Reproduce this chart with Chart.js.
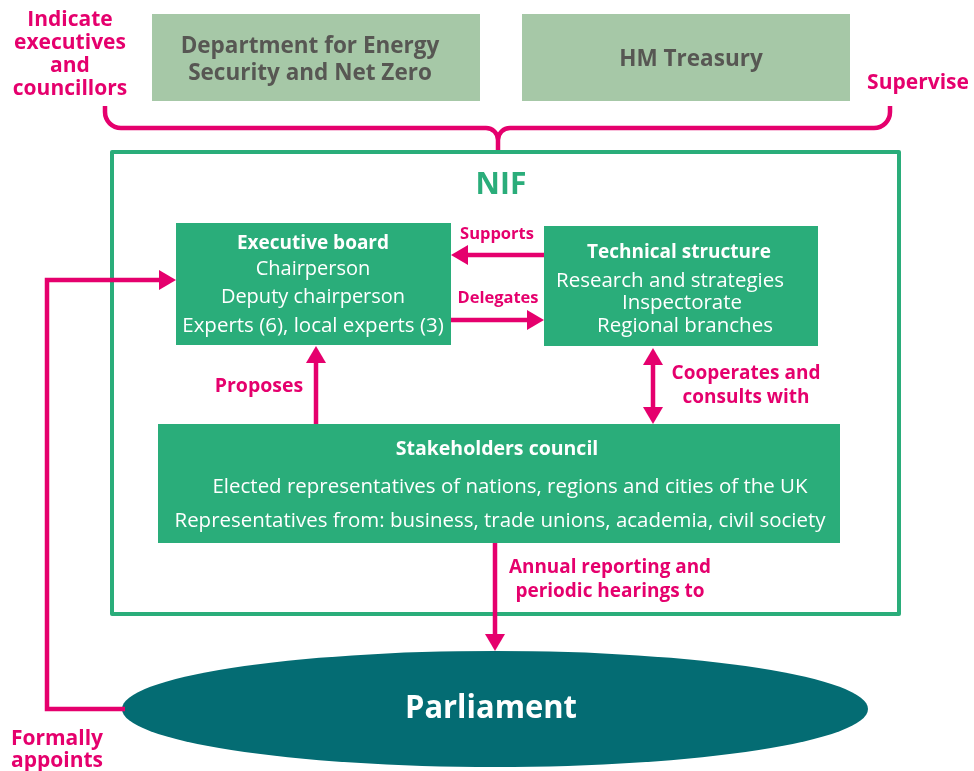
<!DOCTYPE html>
<html><head><meta charset="utf-8">
<script src="https://cdn.jsdelivr.net/npm/chart.js@4/dist/chart.umd.min.js"></script>
<style>html,body{margin:0;padding:0;background:#fff}#wrap{width:974px;height:771px}</style>
</head><body><div id="wrap"><canvas id="c" width="974" height="771"></canvas></div>
<script>
// ---- content ----
const supervisingBodies = ["Department for Energy\nSecurity and Net Zero", "HM Treasury"];
const nifTitle = "NIF";
const boardLines = ["Executive board", "Chairperson", "Deputy chairperson", "Experts (6), local experts (3)"];
const technicalLines = ["Technical structure", "Research and strategies", "Inspectorate", "Regional branches"];
const councilLines = ["Stakeholders council", "Elected representatives of nations, regions and cities of the UK", "Representatives from: business, trade unions, academia, civil society"];
const parliamentLabel = "Parliament";
const relationLabels = ["Indicate\nexecutives\nand\ncouncillors", "Supervise", "Supports", "Delegates", "Proposes", "Cooperates and\nconsults with", "Annual reporting and\nperiodic hearings to", "Formally\nappoints"];

// ---- layout (diagram units = reference pixels) ----
const W = 974, H = 771;
const C = { magenta: "#e5006d", green: "#2aad7a", light: "#a6c8a7", teal: "#046c73", grey: "#575753", white: "#ffffff" };
const FONT = '"Open Sans", "Noto Sans", sans-serif';
const TEXT_SHIFT = 1.5;

const topBoxes = [
  { x0: 152, x1: 480, y0: 14, y1: 101, text: supervisingBodies[0], lines: [45, 72], cx: 310 },
  { x0: 522, x1: 850, y0: 14, y1: 101, text: supervisingBodies[1], lines: [58], cx: 691 }
];
const nifBox = { x0: 112, x1: 899, y0: 152, y1: 614 };
const boardBox = { x0: 176, x1: 451, y0: 223, y1: 345, cx: 313, ys: [242, 268, 296, 325], mw: [156, 120, 200, 266], sizes: [19, 20, 20, 20.5] };
const techBox = { x0: 544, x1: 818, y0: 226, y1: 346, cxs: [679, 670, 682, 685], ys: [251, 280, 302, 325], mw: [184, 228, 122, 176], sizes: [19, 20.5, 20.5, 20.5] };
const councilBox = { x0: 158, x1: 840, y0: 424, y1: 543, cxs: [497, 510, 500], ys: [448, 486, 520], mw: [205, 595, 651], sizes: [19.5, 20.5, 20.5] };
const parliament = { cx: 495, cy: 709, rx: 373, ry: 58 };

const labelPos = [
  { x: 70, ys: [19, 42, 65, 88], size: 21, mw: [90, 118, 48, 120] },
  { x: 918, ys: [82], size: 21, mw: [108] },
  { x: 497, ys: [233], size: 16.5, mw: [78] },
  { x: 498, ys: [297], size: 16.5, mw: [85] },
  { x: 259, ys: [385], size: 19.5, mw: [90] },
  { x: 746, ys: [372, 396], size: 19, mw: [151, 127] },
  { x: 610, ys: [566, 590], size: 19, mw: [202, 192] },
  { x: 57, ys: [738, 760], size: 21, mw: [94, 94] }
];

// connector polylines (drawn as datasets) and arrowheads [tipX, tipY, dirX, dirY]
const connectors = [
  { pts: [[544, 255], [462, 255]], heads: [[451, 255, -1, 0]] },
  { pts: [[451, 320], [533, 320]], heads: [[544, 320, 1, 0]] },
  { pts: [[653, 360], [653, 412]], heads: [[653, 348, 0, -1], [653, 424, 0, 1]] },
  { pts: [[316, 424], [316, 358]], heads: [[316, 346, 0, -1]] },
  { pts: [[495, 543], [495, 638]], heads: [[495, 651, 0, 1]] },
  { pts: [[125, 709], [47, 709], [47, 280], [164, 280]], heads: [[176, 280, 1, 0]] }
];

const diagramPlugin = {
  id: 'diagram',
  beforeDatasetsDraw(chart) {
    const ctx = chart.ctx, sx = chart.scales.x, sy = chart.scales.y;
    const X = v => sx.getPixelForValue(v), Y = v => sy.getPixelForValue(v);
    const rect = (b, fill) => { ctx.fillStyle = fill; ctx.fillRect(X(b.x0), Y(b.y0), X(b.x1) - X(b.x0), Y(b.y1) - Y(b.y0)); };
    const text = (t, x, y, font, color, mw) => {
      ctx.font = font; ctx.fillStyle = color; ctx.textAlign = 'center'; ctx.textBaseline = 'middle';
      const w = ctx.measureText(t).width;
      const py = Y(y + TEXT_SHIFT);
      if (mw && w > mw) ctx.fillText(t, X(x), py, mw); else ctx.fillText(t, X(x), py);
    };
    ctx.save();
    // supervising bodies
    topBoxes.forEach(b => {
      rect(b, C.light);
      const ls = b.text.split('\n');
      ls.forEach((l, i) => text(l, b.cx, b.lines[i], 'bold 22.5px ' + FONT, C.grey, 260));
    });
    // brace
    ctx.strokeStyle = C.magenta; ctx.lineWidth = 4.5; ctx.lineCap = 'butt'; ctx.lineJoin = 'round';
    ctx.beginPath();
    ctx.moveTo(X(105), Y(106));
    ctx.arcTo(X(105), Y(128), X(125), Y(128), 16);
    ctx.arcTo(X(498), Y(128), X(498), Y(148), 12);
    ctx.lineTo(X(498), Y(150));
    ctx.moveTo(X(498), Y(150));
    ctx.arcTo(X(498), Y(128), X(520), Y(128), 12);
    ctx.arcTo(X(890), Y(128), X(890), Y(108), 16);
    ctx.lineTo(X(890), Y(106));
    ctx.stroke();
    // NIF frame
    ctx.strokeStyle = C.green; ctx.lineWidth = 4;
    ctx.strokeRect(X(nifBox.x0), Y(nifBox.y0), X(nifBox.x1) - X(nifBox.x0), Y(nifBox.y1) - Y(nifBox.y0));
    text(nifTitle, 501, 184, 'bold 30px ' + FONT, C.green);
    // boxes
    rect(boardBox, C.green);
    boardLines.forEach((l, i) => text(l, boardBox.cx, boardBox.ys[i], (i === 0 ? 'bold ' : '') + boardBox.sizes[i] + 'px ' + FONT, C.white, boardBox.mw[i]));
    rect(techBox, C.green);
    technicalLines.forEach((l, i) => text(l, techBox.cxs[i], techBox.ys[i], (i === 0 ? 'bold ' : '') + techBox.sizes[i] + 'px ' + FONT, C.white, techBox.mw[i]));
    rect(councilBox, C.green);
    councilLines.forEach((l, i) => text(l, councilBox.cxs[i], councilBox.ys[i], (i === 0 ? 'bold ' : '') + councilBox.sizes[i] + 'px ' + FONT, C.white, councilBox.mw[i]));
    // parliament
    ctx.fillStyle = C.teal;
    ctx.beginPath();
    ctx.ellipse(X(parliament.cx), Y(parliament.cy), X(parliament.rx) - X(0), Y(parliament.ry) - Y(0), 0, 0, Math.PI * 2);
    ctx.fill();
    text(parliamentLabel, 491, 707, 'bold 32px ' + FONT, C.white, 172);
    // relation labels
    relationLabels.forEach((lab, k) => {
      const p = labelPos[k];
      lab.split('\n').forEach((l, i) => text(l, p.x, p.ys[i], 'bold ' + p.size + 'px ' + FONT, C.magenta, p.mw[i]));
    });
    ctx.restore();
  },
  afterDatasetsDraw(chart) {
    const ctx = chart.ctx, sx = chart.scales.x, sy = chart.scales.y;
    const X = v => sx.getPixelForValue(v), Y = v => sy.getPixelForValue(v);
    ctx.save();
    ctx.fillStyle = C.magenta;
    connectors.forEach(c => c.heads.forEach(([tx, ty, dx, dy]) => {
      const L = 17, hw = 10;
      const bx = tx - dx * L, by = ty - dy * L;
      ctx.beginPath();
      ctx.moveTo(X(tx), Y(ty));
      ctx.lineTo(X(bx - dy * hw), Y(by + dx * hw));
      ctx.lineTo(X(bx + dy * hw), Y(by - dx * hw));
      ctx.closePath();
      ctx.fill();
    }));
    ctx.restore();
  }
};

new Chart(document.getElementById('c'), {
  type: 'scatter',
  data: {
    datasets: connectors.map(c => ({
      data: c.pts.map(([x, y]) => ({ x, y })),
      showLine: true, borderColor: C.magenta, borderWidth: 4.5, pointRadius: 0,
      tension: 0, fill: false, borderJoinStyle: 'miter', borderCapStyle: 'butt'
    }))
  },
  options: {
    responsive: false, animation: false, devicePixelRatio: 1,
    layout: { padding: 0 },
    plugins: { legend: { display: false }, tooltip: { enabled: false } },
    scales: {
      x: { type: 'linear', min: 0, max: W, display: false },
      y: { type: 'linear', min: 0, max: H, reverse: true, display: false }
    }
  },
  plugins: [diagramPlugin]
});
</script>
</body></html>
